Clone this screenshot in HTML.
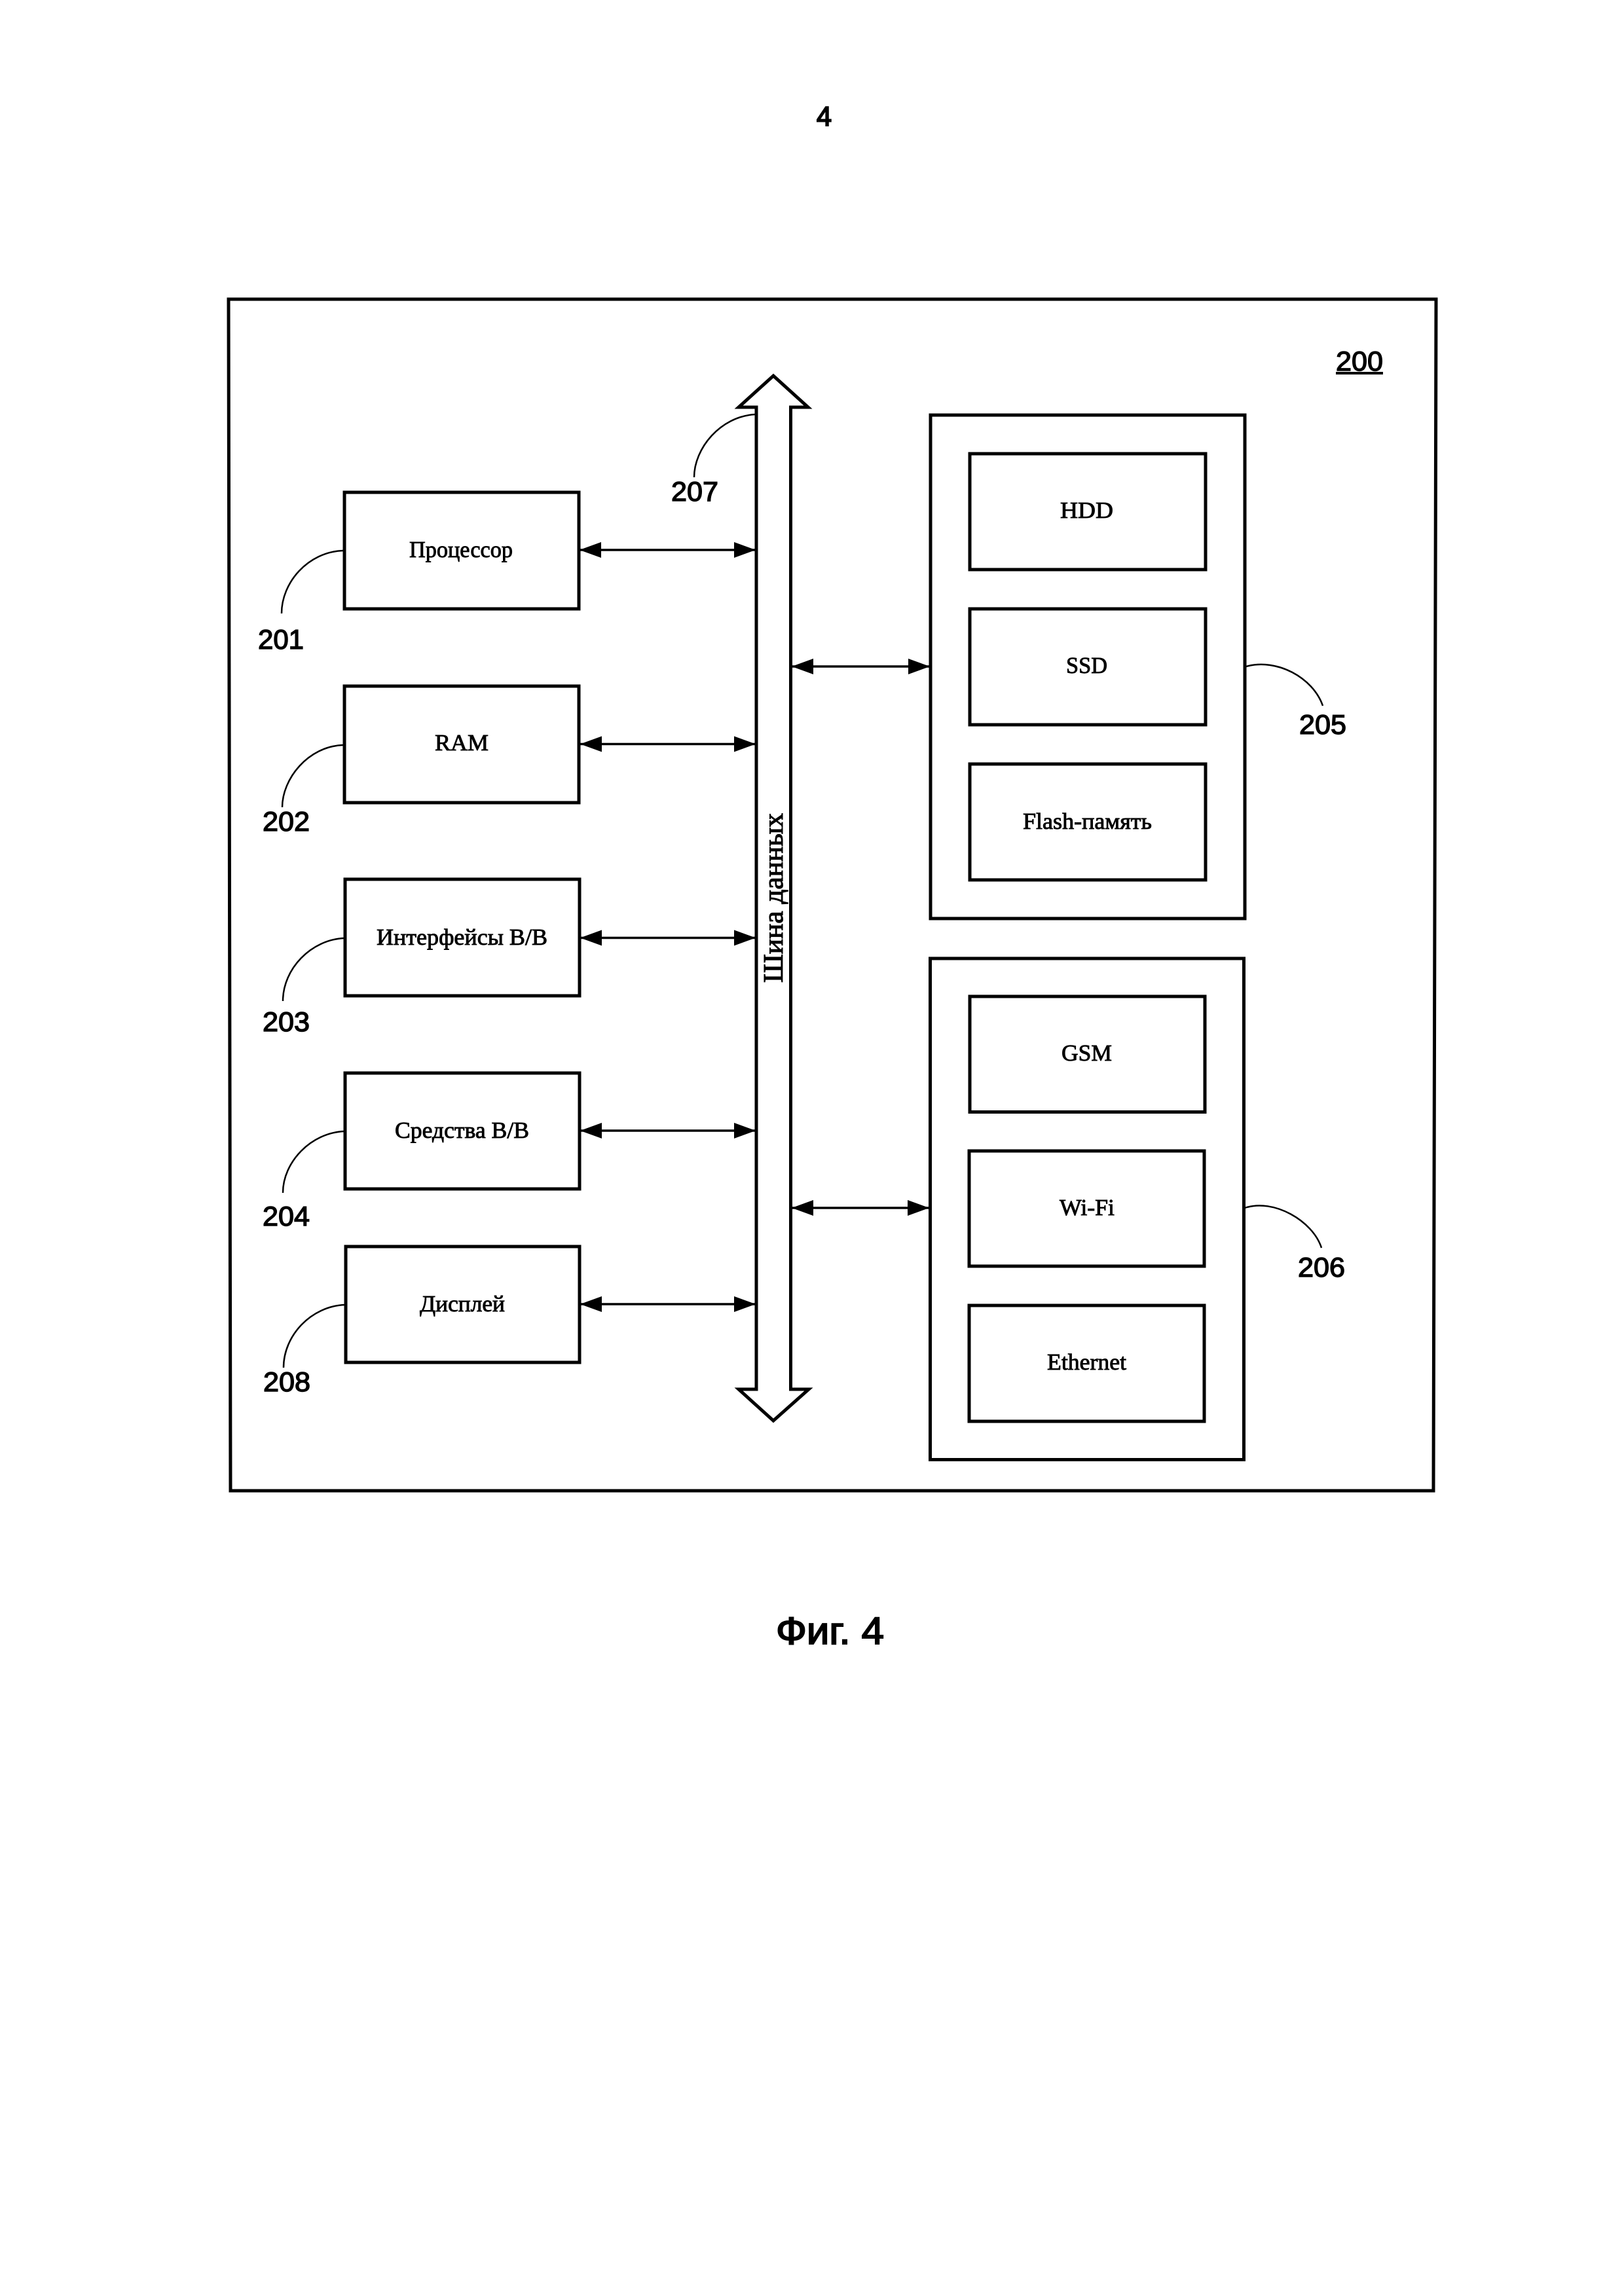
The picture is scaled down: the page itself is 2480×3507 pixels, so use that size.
<!DOCTYPE html>
<html>
<head>
<meta charset="utf-8">
<style>
html,body{margin:0;padding:0;background:#fff;width:2480px;height:3507px;overflow:hidden}
svg{display:block}
.s{font-family:"Liberation Serif","Noto Serif CJK SC",serif;font-size:35px;fill:#000;stroke:#000;stroke-width:.9px}
.n{font-family:"Liberation Sans","Noto Sans CJK SC",sans-serif;font-size:42px;fill:#000;stroke:#000;stroke-width:1.4px}
.b{fill:none;stroke:#000;stroke-width:5}
.l{fill:none;stroke:#000;stroke-width:2.5}
.a{fill:none;stroke:#000;stroke-width:3.5}
</style>
</head>
<body>
<svg width="2480" height="3507" viewBox="0 0 2480 3507" xmlns="http://www.w3.org/2000/svg">
<rect width="2480" height="3507" fill="#fff"/>
<defs>
<marker id="h" viewBox="0 0 33 24" refX="33" refY="12" markerWidth="33" markerHeight="24" markerUnits="userSpaceOnUse" orient="auto-start-reverse"><path d="M0 0L33 12L0 24Z" fill="#000"/></marker>
</defs>

<text class="n" x="1247" y="192" textLength="23" lengthAdjust="spacingAndGlyphs" style="stroke-width:2px">4</text>

<path class="b" d="M349 457L2193 457L2189 2277L352 2277Z"/>

<text class="n" x="2040" y="566" textLength="72" lengthAdjust="spacingAndGlyphs">200</text>
<rect x="2040" y="568" width="72" height="4" fill="#000"/>

<path class="b" d="M1181 574L1234 622L1207.5 622L1207.5 2122L1235 2122L1181 2170L1128 2122L1155 2122L1155 622L1128 622Z" stroke-linejoin="miter"/>
<text class="s" transform="translate(1195 1501) rotate(-90)" x="0" y="0" textLength="259" lengthAdjust="spacingAndGlyphs" style="font-size:42px;stroke-width:1.1px">Шина данных</text>

<!-- left boxes -->
<rect class="b" x="526" y="752" width="358" height="178"/>
<rect class="b" x="526" y="1048" width="358" height="178"/>
<rect class="b" x="527" y="1343" width="358" height="178"/>
<rect class="b" x="527" y="1639" width="358" height="177"/>
<rect class="b" x="528" y="1904" width="357" height="177"/>

<text class="s" x="625" y="851" textLength="158" lengthAdjust="spacingAndGlyphs">Процессор</text>
<text class="s" x="664" y="1146" textLength="82" lengthAdjust="spacingAndGlyphs">RAM</text>
<text class="s" x="575" y="1443" textLength="261" lengthAdjust="spacingAndGlyphs">Интерфейсы В/В</text>
<text class="s" x="603" y="1738" textLength="205" lengthAdjust="spacingAndGlyphs">Средства В/В</text>
<text class="s" x="641" y="2003" textLength="130" lengthAdjust="spacingAndGlyphs">Дисплей</text>

<line class="a" x1="885" y1="840" x2="1154" y2="840" marker-start="url(#h)" marker-end="url(#h)"/>
<line class="a" x1="886" y1="1136.5" x2="1154" y2="1136.5" marker-start="url(#h)" marker-end="url(#h)"/>
<line class="a" x1="886" y1="1432.5" x2="1154" y2="1432.5" marker-start="url(#h)" marker-end="url(#h)"/>
<line class="a" x1="886" y1="1727" x2="1154" y2="1727" marker-start="url(#h)" marker-end="url(#h)"/>
<line class="a" x1="886" y1="1992" x2="1154" y2="1992" marker-start="url(#h)" marker-end="url(#h)"/>

<!-- leaders -->
<path class="l" d="M524 841C470 843 430 890 430 937"/>
<path class="l" d="M524 1138C470 1140 431 1190 431 1233"/>
<path class="l" d="M526 1433C475 1435 432 1480 432 1529"/>
<path class="l" d="M526 1728C475 1730 432 1775 432 1822"/>
<path class="l" d="M527 1993C475 1995 433 2040 433 2089"/>
<path class="l" d="M1153 633C1100 636 1060 685 1060 729"/>
<path class="l" d="M1903 1018C1950 1005 2005 1035 2020 1078"/>
<path class="l" d="M1901 1845C1945 1830 2005 1865 2018 1906"/>

<!-- labels -->
<text class="n" x="394" y="991" textLength="70" lengthAdjust="spacingAndGlyphs">201</text>
<text class="n" x="401" y="1269" textLength="72" lengthAdjust="spacingAndGlyphs">202</text>
<text class="n" x="401" y="1575" textLength="72" lengthAdjust="spacingAndGlyphs">203</text>
<text class="n" x="401" y="1872" textLength="72" lengthAdjust="spacingAndGlyphs">204</text>
<text class="n" x="402" y="2125" textLength="72" lengthAdjust="spacingAndGlyphs">208</text>
<text class="n" x="1025" y="765" textLength="72" lengthAdjust="spacingAndGlyphs">207</text>
<text class="n" x="1984" y="1121" textLength="72" lengthAdjust="spacingAndGlyphs">205</text>
<text class="n" x="1982" y="1950" textLength="72" lengthAdjust="spacingAndGlyphs">206</text>

<!-- right groups -->
<rect class="b" x="1421" y="634" width="480" height="769"/>
<rect class="b" x="1481" y="693" width="360" height="177"/>
<rect class="b" x="1481" y="930" width="360" height="177"/>
<rect class="b" x="1481" y="1167" width="360" height="177"/>
<text class="s" x="1619" y="791" textLength="81" lengthAdjust="spacingAndGlyphs">HDD</text>
<text class="s" x="1628" y="1028" textLength="63" lengthAdjust="spacingAndGlyphs">SSD</text>
<text class="s" x="1562" y="1266" textLength="197" lengthAdjust="spacingAndGlyphs">Flash-память</text>
<line class="a" x1="1209" y1="1018" x2="1420" y2="1018" marker-start="url(#h)" marker-end="url(#h)"/>

<rect class="b" x="1420.5" y="1464" width="479" height="765.5"/>
<rect class="b" x="1481" y="1522" width="359" height="176.5"/>
<rect class="b" x="1480" y="1758" width="359" height="176"/>
<rect class="b" x="1480" y="1994" width="359" height="177"/>
<text class="s" x="1621" y="1620" textLength="77" lengthAdjust="spacingAndGlyphs">GSM</text>
<text class="s" x="1618" y="1856" textLength="84" lengthAdjust="spacingAndGlyphs">Wi-Fi</text>
<text class="s" x="1599" y="2092" textLength="121" lengthAdjust="spacingAndGlyphs">Ethernet</text>
<line class="a" x1="1209" y1="1845" x2="1419" y2="1845" marker-start="url(#h)" marker-end="url(#h)"/>

<text class="n" x="1185" y="2511" textLength="165" lengthAdjust="spacingAndGlyphs" style="font-size:58px;stroke-width:2px">Фиг. 4</text>
</svg>
</body>
</html>
